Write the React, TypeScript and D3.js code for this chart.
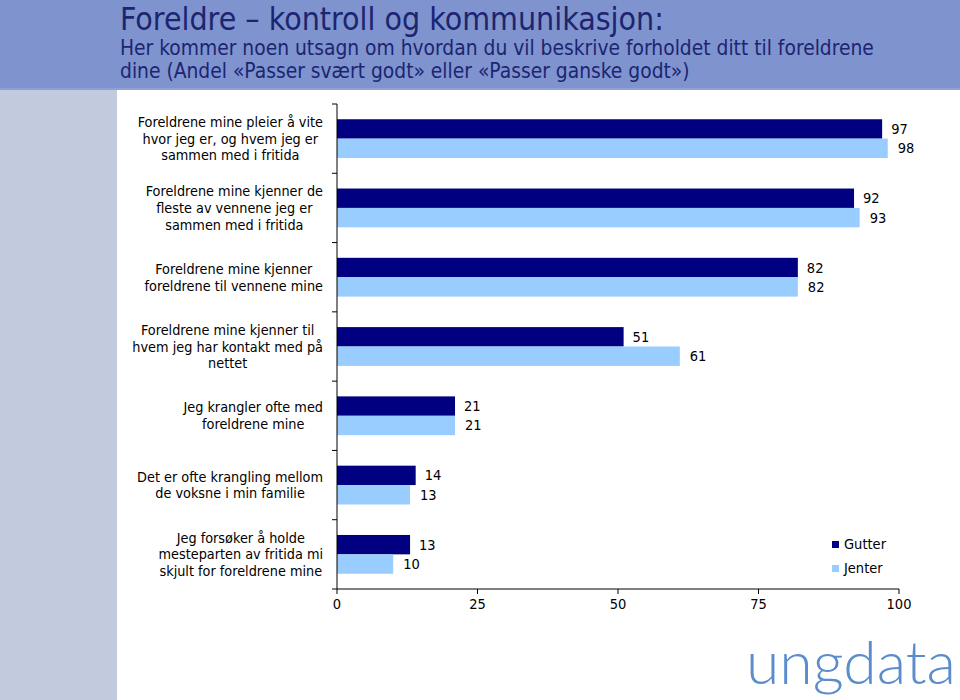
import React, { useEffect, useRef } from "react";
import * as d3 from "d3";

const categories: string[][] = [
  ["Foreldrene mine pleier å vite", "hvor jeg er, og hvem jeg er", "sammen med i fritida"],
  ["Foreldrene mine kjenner de", "fleste av vennene jeg er", "sammen med i fritida"],
  ["Foreldrene mine kjenner", "foreldrene til vennene mine"],
  ["Foreldrene mine kjenner til", "hvem jeg har kontakt med på", "nettet"],
  ["Jeg krangler ofte med", "foreldrene mine"],
  ["Det er ofte krangling mellom", "de voksne i min familie"],
  ["Jeg forsøker å holde", "mesteparten av fritida mi", "skjult for foreldrene mine"],
];
const gutter: number[] = [97, 92, 82, 51, 21, 14, 13];
const jenter: number[] = [98, 93, 82, 61, 21, 13, 10];
const seriesNames: string[] = ["Gutter", "Jenter"];
const xTicks: number[] = [0, 25, 50, 75, 100];

const title = "Foreldre – kontroll og kommunikasjon:";
const subtitle1 = "Her kommer noen utsagn om hvordan du vil beskrive forholdet ditt til foreldrene";
const subtitle2 = "dine (Andel «Passer svært godt» eller «Passer ganske godt»)";

const FONT = "Tahoma, 'DejaVu Sans Condensed', 'DejaVu Sans', sans-serif";
const DARK = "#000080";
const LIGHT = "#99ccff";

export default function App() {
  const ref = useRef<SVGSVGElement | null>(null);

  useEffect(() => {
    const svg = d3.select(ref.current);
    svg.selectAll("*").remove();

    // background
    svg.append("rect").attr("x", 0).attr("y", 0).attr("width", 960).attr("height", 700).attr("fill", "#ffffff");
    svg.append("rect").attr("x", 0).attr("y", 0).attr("width", 960).attr("height", 90).attr("fill", "#7f93cf");
    svg.append("rect").attr("x", 0).attr("y", 88).attr("width", 960).attr("height", 2).attr("fill", "#8fa0d6");
    svg.append("rect").attr("x", 0).attr("y", 90).attr("width", 117).attr("height", 610).attr("fill", "#c1cbdd");

    // titles
    svg.append("text").attr("x", 120).attr("y", 30).attr("font-family", FONT).attr("font-size", 31.8)
      .attr("fill", "#1c2570").text(title);
    svg.append("text").attr("x", 120).attr("y", 55).attr("font-family", FONT).attr("font-size", 20.8)
      .attr("fill", "#1c2570").text(subtitle1);
    svg.append("text").attr("x", 120).attr("y", 78).attr("font-family", FONT).attr("font-size", 20.8)
      .attr("fill", "#1c2570").text(subtitle2);

    const x = d3.scaleLinear().domain([0, 100]).range([337, 899]);
    const idx = categories.map((_, i) => String(i));
    const y = d3.scaleBand<string>().domain(idx).range([104, 589]).padding(0);
    const bh = y.bandwidth() * 0.28;

    const g = svg.append("g");

    // bars
    idx.forEach((k, i) => {
      const c = (y(k) as number) + y.bandwidth() / 2;
      g.append("rect").attr("x", x(0)).attr("y", c - bh).attr("width", x(gutter[i]) - x(0)).attr("height", bh).attr("fill", DARK);
      g.append("rect").attr("x", x(0)).attr("y", c).attr("width", x(jenter[i]) - x(0)).attr("height", bh).attr("fill", LIGHT);
      g.append("text").attr("x", x(gutter[i]) + 9).attr("y", c - bh / 2 + 5).attr("font-family", FONT).attr("font-size", 14.5)
        .attr("fill", "#000").text(gutter[i]);
      g.append("text").attr("x", x(jenter[i]) + 10).attr("y", c + bh / 2 + 5).attr("font-family", FONT).attr("font-size", 14.5)
        .attr("fill", "#000").text(jenter[i]);
    });

    // y axis
    g.append("line").attr("x1", x(0)).attr("x2", x(0)).attr("y1", 104).attr("y2", 589).attr("stroke", "#000").attr("stroke-width", 1);
    const bounds = idx.map((k) => y(k) as number).concat([589]);
    bounds.forEach((b) => {
      g.append("line").attr("x1", x(0) - 5).attr("x2", x(0)).attr("y1", b).attr("y2", b).attr("stroke", "#000");
    });

    // x axis
    g.append("line").attr("x1", x(0)).attr("x2", x(100)).attr("y1", 589).attr("y2", 589).attr("stroke", "#000");
    xTicks.forEach((t) => {
      g.append("line").attr("x1", x(t)).attr("x2", x(t)).attr("y1", 589).attr("y2", 594).attr("stroke", "#000");
      g.append("text").attr("x", x(t)).attr("y", 609).attr("text-anchor", "middle").attr("font-family", FONT)
        .attr("font-size", 14.5).attr("fill", "#000").text(t);
    });

    // category labels (block right aligned to 323, lines centered)
    categories.forEach((lines, i) => {
      const c = (y(String(i)) as number) + y.bandwidth() / 2;
      const grp = g.append("g");
      const texts = lines.map((ln, j) =>
        grp.append("text")
          .attr("y", c + (j - (lines.length - 1) / 2) * 16.8 + 5)
          .attr("text-anchor", "middle")
          .attr("font-family", FONT).attr("font-size", 14.3).attr("fill", "#000").text(ln)
      );
      const maxW = d3.max(texts, (t) => (t.node() as SVGTextElement).getComputedTextLength()) || 0;
      texts.forEach((t) => t.attr("x", 323 - maxW / 2));
    });

    // legend
    [DARK, LIGHT].forEach((col, i) => {
      g.append("rect").attr("x", 832).attr("y", 541 + i * 24).attr("width", 7).attr("height", 7).attr("fill", col);
      g.append("text").attr("x", 844).attr("y", 549 + i * 24).attr("font-family", FONT).attr("font-size", 14.5)
        .attr("fill", "#000").text(seriesNames[i]);
    });

    // logo
    svg.append("text").attr("x", 746).attr("y", 684).attr("font-family", "Lato, 'Open Sans', sans-serif")
      .attr("font-weight", 300).attr("font-size", 60).attr("fill", "#5b8dcc")
      .attr("textLength", 210).attr("lengthAdjust", "spacingAndGlyphs").text("ungdata");
  }, []);

  return (
    <svg ref={ref} width={960} height={700} style={{ position: "absolute", left: 0, top: 0 }} />
  );
}
